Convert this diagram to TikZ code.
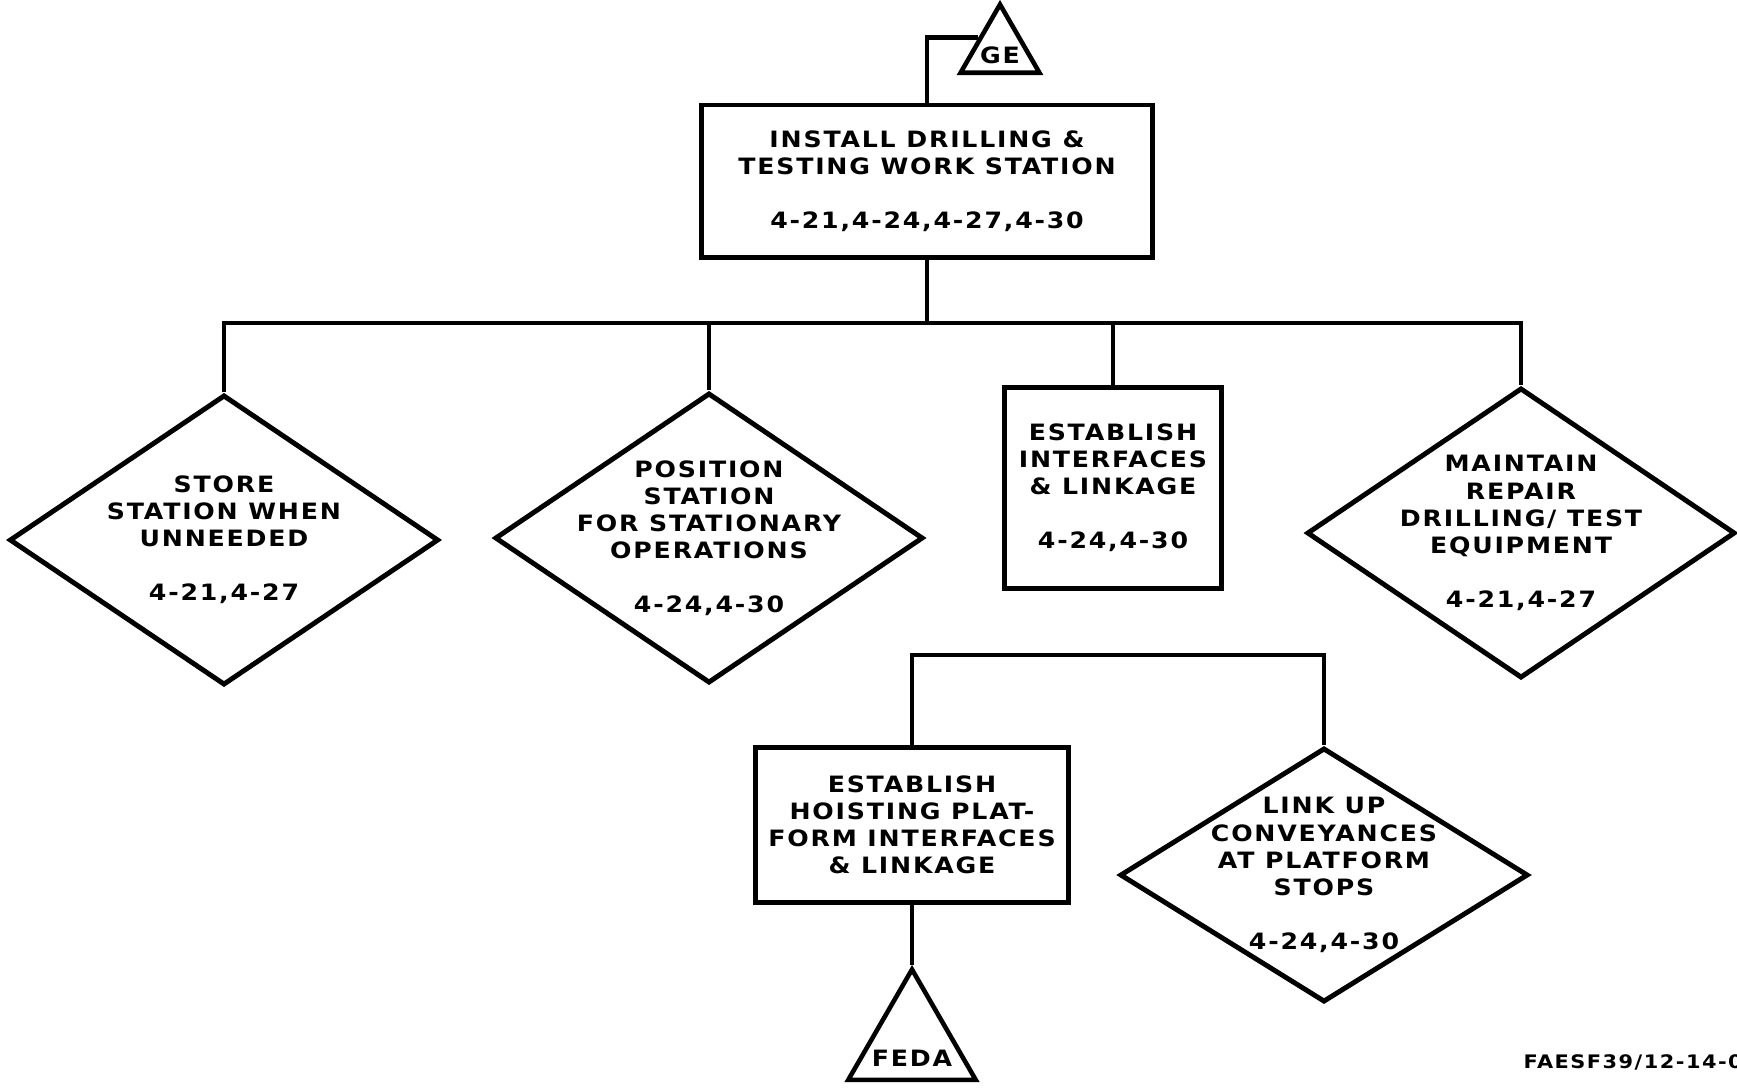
\documentclass[tikz,border=0pt]{standalone}
\usepackage{fontspec}
\usetikzlibrary{shapes.geometric}
\newfontfamily\chartfont[LetterSpace=8, FakeStretch=1.12]{DejaVu Sans}
\tikzset{
  every picture/.style={line width=1.2pt},
  lbl/.style={font=\chartfont\bfseries\fontsize{6.4}{7.7}\selectfont, align=center, inner sep=1pt},
  box/.style={draw, line width=1.4pt, rectangle, lbl},
  dia/.style={draw, line width=1.4pt, diamond, inner sep=0pt},
  tri/.style={draw, line width=1.3pt, regular polygon, regular polygon sides=3, inner sep=0pt},
  wire/.style={line width=1.3pt},
}

\begin{document}
\begin{tikzpicture}[x=0.01cm, y=-0.01cm]
  \useasboundingbox (0,0) rectangle (1737,1087);

  % top task and its reference triangle
  \node[box, minimum width=4.51cm, minimum height=1.52cm] (install) at (927,181)
    {INSTALL DRILLING \&\\TESTING WORK STATION\\[7.7pt]4-21,4-24,4-27,4-30};
  \node[tri, minimum size=0.91cm] (ge) at (1000,50) {};
  \node[lbl] (getext) at (1000,55) {GE};
  \draw[wire] (install.north) |- (ge.side 1);

  % second level
  \node[dia, minimum width=4.29cm, minimum height=2.9cm] (store) at (224,540) {};
  \node[lbl] (storetext) at (store) {STORE\\STATION WHEN\\UNNEEDED\\[7.7pt]4-21,4-27};
  \node[dia, minimum width=4.28cm, minimum height=2.9cm] (pos) at (709,538) {};
  \node[lbl] (postext) at (pos) {POSITION\\STATION\\FOR STATIONARY\\OPERATIONS\\[7.7pt]4-24,4-30};
  \node[box, minimum width=2.17cm, minimum height=2cm] (iface) at (1113,488)
    {ESTABLISH\\INTERFACES\\\& LINKAGE\\[7.7pt]4-24,4-30};
  \node[dia, minimum width=4.28cm, minimum height=2.9cm] (maint) at (1521,533) {};
  \node[lbl] (mainttext) at (maint) {MAINTAIN\\REPAIR\\DRILLING/ TEST\\EQUIPMENT\\[7.7pt]4-21,4-27};

  \coordinate (bus) at (927,323);
  \draw[wire] (install.south) -- (bus);
  \draw[wire] (store.north) |- (bus) -| (maint.north);
  \draw[wire] (pos.north) -- (pos.north |- bus);
  \draw[wire] (iface.north) -- (iface.north |- bus);

  % hoisting platform group
  \node[box, minimum width=3.12cm, minimum height=1.55cm] (hoist) at (912,825)
    {ESTABLISH\\HOISTING PLAT-\\FORM INTERFACES\\\& LINKAGE};
  \node[dia, minimum width=4.08cm, minimum height=2.54cm] (conv) at (1324,875) {};
  \node[lbl] (convtext) at (conv) {LINK UP\\CONVEYANCES\\AT PLATFORM\\STOPS\\[7.7pt]4-24,4-30};
  \coordinate (subbus) at (1117,655);
  \draw[wire] (hoist.north) |- (subbus) -| (conv.north);

  \node[tri, minimum size=1.47cm] (feda) at (912,1043) {};
  \node[lbl] (fedatext) at (912,1058) {FEDA};
  \draw[wire] (hoist.south) -- (feda.corner 1);

  \node[lbl, anchor=base west, font=\chartfont\bfseries\fontsize{5.3}{6}\selectfont] (figid) at (1518,1068) {FAESF39/12-14-0};
\end{tikzpicture}
\end{document}
